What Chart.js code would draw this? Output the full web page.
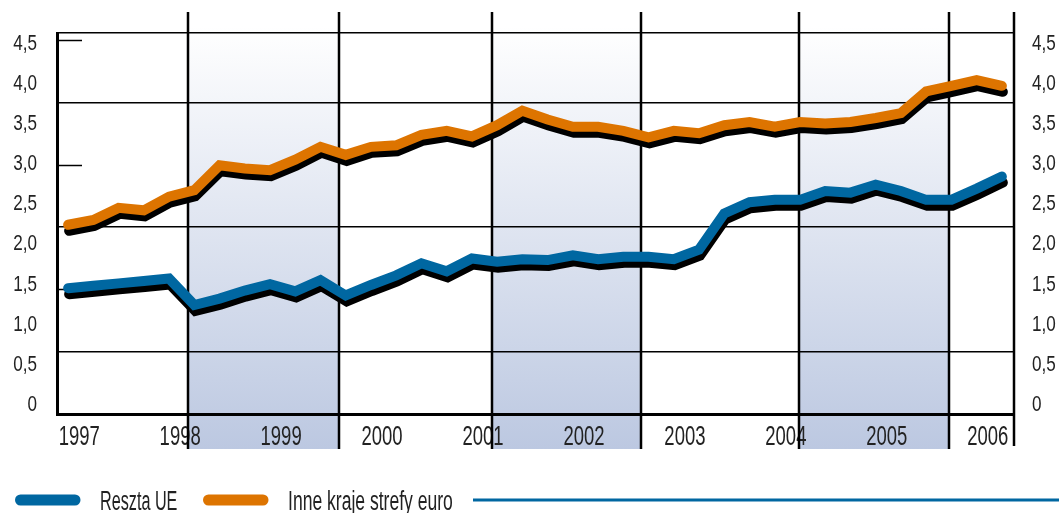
<!DOCTYPE html>
<html>
<head>
<meta charset="utf-8">
<script src="https://cdn.jsdelivr.net/npm/chart.js@4.4.1/dist/chart.umd.min.js"></script>
<style>
html,body{margin:0;padding:0;background:#fff}
canvas{display:block}
</style>
</head>
<body>
<canvas id="wykres" width="1059" height="513"></canvas>
<script>
// dane kwartalne 1997 Q1 - 2006 Q2
var lata = ['1997','1998','1999','2000','2001','2002','2003','2004','2005','2006'];
var kwartaly = [];
lata.forEach(function (r) { for (var q = 1; q <= 4; q++) kwartaly.push(r + ' Q' + q); });
kwartaly = kwartaly.slice(0, 38);

var resztaUE = [1.43,1.46,1.49,1.52,1.55,1.22,1.30,1.40,1.48,1.39,1.53,1.34,1.47,1.59,1.74,1.64,1.80,1.76,1.79,1.78,
                1.84,1.79,1.82,1.82,1.79,1.91,2.36,2.50,2.53,2.53,2.64,2.62,2.72,2.64,2.53,2.53,2.67,2.82];
var inneKraje = [2.22,2.28,2.43,2.40,2.57,2.65,2.96,2.92,2.90,3.03,3.19,3.09,3.19,3.21,3.34,3.39,3.32,3.46,3.64,3.53,
                 3.44,3.44,3.39,3.31,3.39,3.36,3.46,3.50,3.44,3.50,3.48,3.50,3.55,3.61,3.88,3.95,4.02,3.95];

var wartosciY = [0,0.5,1,1.5,2,2.5,3,3.5,4,4.5];
var etykietyY = ['0','0,5','1,0','1,5','2,0','2,5','3,0','3,5','4,0','4,5'];

var niebieski = '#0067a1';
var pomaranczowy = '#dd7400';
var tekst = '#222';
var czcionka = "'Liberation Sans', Arial, sans-serif";

// pasy w tle (w jednostkach osi x)
var pasy = [[4.75,10.73],[16.78,22.70],[28.97,34.91]];

function punkty(arr) { return arr.map(function (v, i) { return { x: i, y: v }; }); }

// tekst zwezony w poziomie (brak czcionki condensed)
function napis(c, s, x, y, size, sx, align) {
  c.save();
  c.font = size + 'px ' + czcionka;
  c.fillStyle = tekst;
  c.textBaseline = 'alphabetic';
  var w = c.measureText(s).width * sx;
  var x0 = align === 'right' ? x - w : (align === 'center' ? x - w / 2 : x);
  c.translate(x0, y);
  c.scale(sx, 1);
  c.fillText(s, 0, 0);
  c.restore();
}

var tlo = {
  id: 'tlo',
  beforeDraw: function (chart) {
    var c = chart.ctx, sx = chart.scales.x;
    var g = c.createLinearGradient(0, 26, 0, 449);
    g.addColorStop(0, '#ffffff');
    g.addColorStop(1, 'rgb(188,200,225)');
    c.save();
    c.fillStyle = g;
    pasy.forEach(function (p) {
      var a = sx.getPixelForValue(p[0]), b = sx.getPixelForValue(p[1]);
      c.fillRect(a, 12, b - a, 437);
    });
    c.restore();
  },
  beforeDatasetsDraw: function (chart) {
    var c = chart.ctx, sx = chart.scales.x, yg = chart.scales.yg, ca = chart.chartArea;
    // etykiety osi
    sx.ticks.forEach(function (t, i) {
      napis(c, lata[i], sx.getPixelForValue(t.value), 445, 28, 0.66, 'center');
    });
    chart.scales.y.ticks.forEach(function (t, i) {
      napis(c, etykietyY[i], 37, chart.scales.y.getPixelForValue(t.value) + 8, 22.5, 0.76, 'right');
    });
    chart.scales.yr.ticks.forEach(function (t, i) {
      napis(c, etykietyY[i], 1032, chart.scales.yr.getPixelForValue(t.value) + 8, 22.5, 0.76, 'left');
    });
    c.save();
    c.strokeStyle = '#000';
    c.lineWidth = 2.5;
    var linie = [];
    pasy.forEach(function (p) { linie.push(p[0], p[1]); });
    linie.forEach(function (v) {
      var x = Math.round(sx.getPixelForValue(v));
      c.beginPath(); c.moveTo(x, 12); c.lineTo(x, 449); c.stroke();
    });
    c.beginPath(); c.moveTo(ca.right, 12); c.lineTo(ca.right, 446); c.stroke();
    // krotkie kreski przy lewej osi
    c.lineWidth = 1.5;
    [1.5, 3, 4.5].forEach(function (v) {
      var y = Math.round(yg.getPixelForValue(v)) + 0.5;
      c.beginPath(); c.moveTo(ca.left, y); c.lineTo(ca.left + 25, y); c.stroke();
    });
    c.restore();
  },
  beforeDatasetDraw: function (chart) {
    var c = chart.ctx;
    c.save();
    c.shadowColor = '#000';
    c.shadowOffsetX = 1;
    c.shadowOffsetY = 6;
    c.shadowBlur = 0;
  },
  afterDatasetDraw: function (chart) {
    chart.ctx.restore();
  },
  afterDraw: function (chart) {
    var c = chart.ctx;
    var ds = chart.data.datasets;
    var poz = [[15, 100, 0.6], [203, 288, 0.65]];
    c.save();
    c.lineCap = 'round';
    c.lineWidth = 11;
    ds.forEach(function (d, i) {
      c.strokeStyle = d.borderColor;
      c.beginPath(); c.moveTo(poz[i][0] + 5.5, 500); c.lineTo(poz[i][0] + 60, 500); c.stroke();
      napis(c, d.label, poz[i][1], 510, 27, poz[i][2], 'left');
    });
    c.lineCap = 'butt';
    c.lineWidth = 3;
    c.strokeStyle = niebieski;
    c.beginPath(); c.moveTo(473, 500); c.lineTo(1059, 500); c.stroke();
    c.restore();
  }
};

new Chart(document.getElementById('wykres'), {
  type: 'line',
  data: {
    datasets: [{
      label: 'Reszta UE',
      data: punkty(resztaUE),
      borderColor: niebieski,
      backgroundColor: niebieski,
      borderWidth: 10,
      borderCapStyle: 'round',
      borderJoinStyle: 'miter',
      pointRadius: 0,
      tension: 0
    }, {
      label: 'Inne kraje strefy euro',
      data: punkty(inneKraje),
      borderColor: pomaranczowy,
      backgroundColor: pomaranczowy,
      borderWidth: 10,
      borderCapStyle: 'round',
      borderJoinStyle: 'miter',
      pointRadius: 0,
      tension: 0
    }]
  },
  options: {
    responsive: false,
    animation: false,
    layout: { padding: { top: 33, left: 0, right: 0, bottom: 0 } },
    plugins: { legend: { display: false }, tooltip: { enabled: false } },
    scales: {
      x: {
        type: 'linear',
        min: -0.44,
        max: 37.48,
        grid: { display: false, drawTicks: false },
        border: { display: true, color: '#000', width: 3 },
        afterBuildTicks: function (s) { s.ticks = lata.map(function (r, k) { return { value: k * 4 + 0.44 }; }); },
        afterFit: function (s) { s.height = 99; },
        ticks: { display: false }
      },
      y: {
        position: 'left',
        min: -0.137,
        max: 4.608,
        grid: { display: false, drawTicks: false },
        border: { display: true, color: '#000', width: 3 },
        afterBuildTicks: function (s) { s.ticks = wartosciY.map(function (v) { return { value: v }; }); },
        afterFit: function (s) { s.width = 57; },
        ticks: { display: false }
      },
      yr: {
        position: 'right',
        min: -0.137,
        max: 4.608,
        grid: { display: false, drawTicks: false },
        border: { display: false },
        afterBuildTicks: function (s) { s.ticks = wartosciY.map(function (v) { return { value: v }; }); },
        afterFit: function (s) { s.width = 45; },
        ticks: { display: false }
      },
      yg: {
        position: 'left',
        min: 0,
        max: 4.588,
        grid: { display: true, color: '#000', lineWidth: 1.5, drawTicks: false },
        border: { display: false },
        afterBuildTicks: function (s) { s.ticks = [0.75, 2.25, 3.75, 4.588].map(function (v) { return { value: v }; }); },
        afterFit: function (s) { s.width = 0; },
        ticks: { display: false }
      }
    }
  },
  plugins: [tlo]
});
</script>
</body>
</html>
